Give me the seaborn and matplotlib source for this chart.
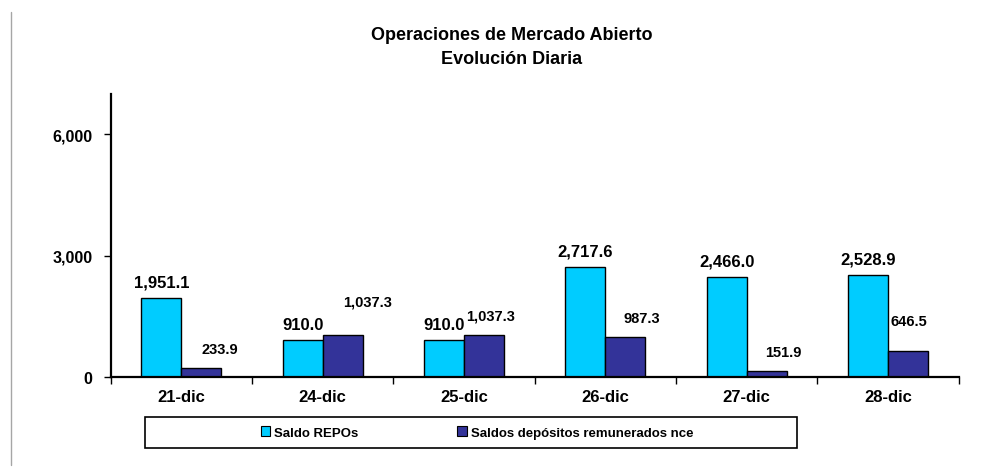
import pandas as pd
import matplotlib.pyplot as plt
import seaborn as sns
from matplotlib.patches import Rectangle
from matplotlib.lines import Line2D
from matplotlib.ticker import FuncFormatter, FixedLocator

# Datos
fechas = ["21-dic", "24-dic", "25-dic", "26-dic", "27-dic", "28-dic"]
saldo_repos = [1951.1, 910.0, 910.0, 2717.6, 2466.0, 2528.9]
saldo_depositos = [233.9, 1037.3, 1037.3, 987.3, 151.9, 646.5]
series = ["Saldo REPOs", "Saldos depósitos remunerados nce"]
colores = ["#00CCFF", "#333399"]

# desplazamiento (px) de las etiquetas de la segunda serie, como en el original
offs_dep = [(18, 19), (25, 34), (7, 20), (16, 19), (17, 19), (1, 30)]

df = pd.DataFrame({
    "Fecha": fechas * 2,
    "Valor": saldo_repos + saldo_depositos,
    "Serie": [series[0]] * len(fechas) + [series[1]] * len(fechas),
})

sns.set_style("white")
plt.rcParams["font.family"] = ["Liberation Sans", "DejaVu Sans"]
plt.rcParams["font.weight"] = "bold"
for k in ["text.color", "xtick.color", "ytick.color", "axes.labelcolor"]:
    plt.rcParams[k] = "black"

fig = plt.figure(figsize=(9.87, 4.77), dpi=100)
ax = fig.add_axes([110.7 / 987, 99 / 477, 848 / 987, 283 / 477])

sns.barplot(data=df, x="Fecha", y="Valor", hue="Serie", palette=colores,
            width=0.566, edgecolor="black", linewidth=1, saturation=1,
            legend=False, ax=ax)

ax.set_xlim(-0.5, len(fechas) - 0.5)
ax.set_ylim(0, 7000)
ax.set_yticks([0, 3000, 6000])
ax.yaxis.set_major_formatter(FuncFormatter(lambda v, p: f"{v:,.0f}"))
ax.set_xlabel("")
ax.set_ylabel("")

for s in ["top", "right"]:
    ax.spines[s].set_visible(False)
for s in ["left", "bottom"]:
    ax.spines[s].set_linewidth(1.6)
    ax.spines[s].set_color("black")

ax.tick_params(axis="y", direction="out", length=5, width=1, labelsize=11.5,
               pad=8, left=True, colors="black")
ax.tick_params(axis="x", which="major", length=0, labelsize=12, pad=9, colors="black")
ax.xaxis.set_minor_locator(FixedLocator([i - 0.5 for i in range(len(fechas) + 1)]))
ax.tick_params(axis="x", which="minor", direction="out", length=5, width=1,
               bottom=True, colors="black")
for lbl in ax.get_xticklabels() + ax.get_yticklabels():
    lbl.set_fontweight("bold")

# etiquetas de valores
cont_repos, cont_dep = ax.containers[0], ax.containers[1]
for bar, v in zip(cont_repos, saldo_repos):
    ax.annotate(f"{v:,.1f}", (bar.get_x() + bar.get_width() / 2, bar.get_height()),
                xytext=(0, 16), textcoords="offset pixels", ha="center", va="center",
                fontsize=12, fontweight="bold", color="black")
for bar, v, (dx, dy) in zip(cont_dep, saldo_depositos, offs_dep):
    ax.annotate(f"{v:,.1f}", (bar.get_x() + bar.get_width() / 2, bar.get_height()),
                xytext=(dx, dy), textcoords="offset pixels", ha="center", va="center",
                fontsize=10.5, fontweight="bold", color="black")

# titulo
fig.text(0.518, 1 - 36 / 477, "Operaciones de Mercado Abierto", ha="center", va="center",
         fontsize=13, fontweight="bold", color="black")
fig.text(0.518, 1 - 59 / 477, "Evolución Diaria", ha="center", va="center",
         fontsize=13, fontweight="bold", color="black")

# leyenda con marco
fig.patches.append(Rectangle((145 / 987, 1 - 449 / 477), 652 / 987, 31 / 477,
                             transform=fig.transFigure, fill=False,
                             edgecolor="black", linewidth=1.2))
handles = [Rectangle((0, 0), 1, 1, facecolor=c, edgecolor="black", linewidth=0.8)
           for c in colores]
fig.legend(handles, series, loc="center", bbox_to_anchor=(477 / 987, 1 - 433.5 / 477),
           ncol=2, frameon=False, handlelength=0.7, handleheight=0.7,
           handletextpad=0.3, columnspacing=7.5, labelcolor="black",
           prop={"size": 9.5, "weight": "bold"})

# linea gris a la izquierda
fig.add_artist(Line2D([11 / 987, 11 / 987], [1 - 13 / 477, 1 - 466 / 477],
                      transform=fig.transFigure, color="#a6a6a6", linewidth=1))

fig.savefig("out.png", dpi=100)
